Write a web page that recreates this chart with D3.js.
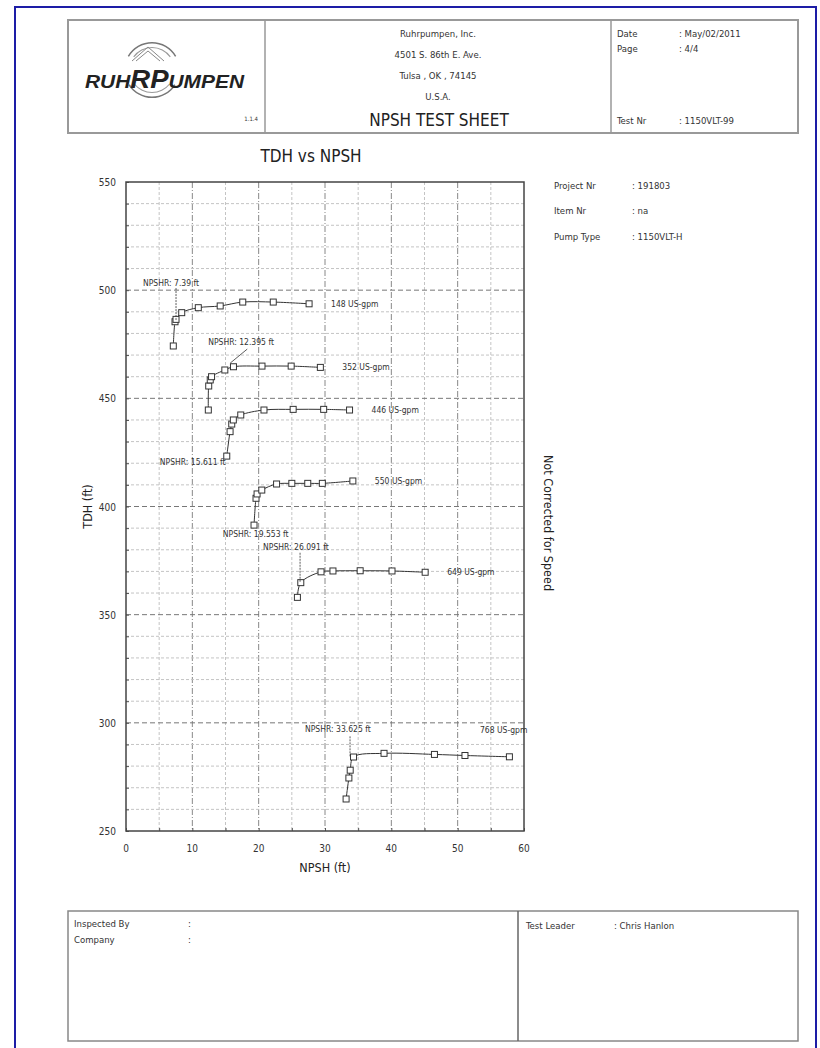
<!DOCTYPE html>
<html>
<head>
<meta charset="utf-8">
<script src="https://cdn.jsdelivr.net/npm/d3@7"></script>
<style>
  body { margin: 0; background: #fff; }
  svg text { font-family: "DejaVu Sans Condensed", "Liberation Sans", sans-serif; fill: #333; }
</style>
</head>
<body>
<div id="chart"></div>
<script>
// Flow rates (US-gpm) and the NPSHR read for each curve
const flows = [148, 352, 446, 550, 649, 768];
const npshr = [7.39, 12.395, 15.611, 19.553, 26.091, 33.625];

// Test points per flow: NPSH (ft) and TDH (ft)
const npsh148 = [7.13, 7.39, 7.54, 8.4, 10.9, 14.2, 17.6, 22.2, 27.6];
const tdh148  = [474.2, 485.4, 486.5, 489.6, 491.9, 492.7, 494.5, 494.5, 493.7];
const npsh352 = [12.41, 12.47, 12.7, 12.9, 14.9, 16.2, 20.5, 24.9, 29.3];
const tdh352  = [444.6, 455.7, 458.5, 460.0, 463.1, 464.6, 464.9, 464.9, 464.3];
const npsh446 = [15.19, 15.69, 15.94, 16.18, 17.3, 20.8, 25.2, 29.8, 33.7];
const tdh446  = [423.3, 434.6, 438.1, 440.0, 442.3, 444.6, 444.9, 444.9, 444.6];
const npsh550 = [19.3, 19.6, 19.76, 20.47, 22.7, 25.0, 27.4, 29.6, 34.2];
const tdh550  = [391.4, 403.8, 405.8, 407.6, 410.4, 410.7, 410.7, 410.7, 411.8];
const npsh649 = [25.84, 26.35, 29.4, 31.2, 35.3, 40.1, 45.1];
const tdh649  = [358.0, 364.8, 369.8, 370.2, 370.3, 370.2, 369.6];
const npsh768 = [33.18, 33.6, 33.8, 34.3, 38.9, 46.5, 51.1, 57.8];
const tdh768  = [264.8, 274.5, 278.1, 284.2, 285.9, 285.4, 284.9, 284.3];

// Axis ticks
const xTicks = [0, 10, 20, 30, 40, 50, 60];
const yTicks = [250, 300, 350, 400, 450, 500, 550];

const npshSeries = [npsh148, npsh352, npsh446, npsh550, npsh649, npsh768];
const tdhSeries = [tdh148, tdh352, tdh446, tdh550, tdh649, tdh768];

const svg = d3.select("#chart")
    .append("svg")
    .attr("width", 820)
    .attr("height", 1048);

// Page frame (blue edge of the scan)
svg.append("path")
    .attr("d", "M15,1048 V7 H816 V1048")
    .attr("fill", "none")
    .attr("stroke", "#1d1da6")
    .attr("stroke-width", 2);

// ---------- header block ----------
const head = svg.append("g");
head.append("rect")
    .attr("x", 68).attr("y", 20).attr("width", 730).attr("height", 113)
    .attr("fill", "none").attr("stroke", "#999").attr("stroke-width", 2);
head.append("line").attr("x1", 265).attr("x2", 265).attr("y1", 20).attr("y2", 133)
    .attr("stroke", "#999").attr("stroke-width", 1.5);
head.append("line").attr("x1", 611).attr("x2", 611).attr("y1", 20).attr("y2", 133)
    .attr("stroke", "#999").attr("stroke-width", 1.5);

// logo
const logo = head.append("g").attr("transform", "translate(152,70)");
const ring = d3.arc();
[[-1.05, 1.05], [Math.PI - 1.0, Math.PI + 1.0]].forEach(([a0, a1]) => {
    logo.append("path")
        .attr("d", ring({ innerRadius: 26.5, outerRadius: 28, startAngle: a0, endAngle: a1 }))
        .attr("fill", "#777");
    logo.append("path")
        .attr("d", ring({ innerRadius: 22, outerRadius: 23, startAngle: a0 + 0.1, endAngle: a1 - 0.1 }))
        .attr("fill", "#999");
});
logo.append("path")
    .attr("d", "M-20,-9 L-4,-23 L12,-9 M-16,-9 L-4,-19 L8,-9")
    .attr("fill", "none").attr("stroke", "#888").attr("stroke-width", 1);
const brand = head.append("text")
    .attr("x", 85).attr("y", 88)
    .attr("textLength", 159).attr("lengthAdjust", "spacingAndGlyphs")
    .style("font-family", "'Liberation Sans', Arial, sans-serif")
    .style("font-weight", "bold").style("font-style", "italic")
    .style("fill", "#222");
brand.append("tspan").attr("font-size", 19).text("RUH");
brand.append("tspan").attr("font-size", 25).text("RP");
brand.append("tspan").attr("font-size", 19).text("UMPEN");
head.append("text").attr("x", 258).attr("y", 121).attr("text-anchor", "end")
    .attr("font-size", 6).text("1.1.4");

// company block
const addr = ["Ruhrpumpen, Inc.", "4501 S. 86th E. Ave.", "Tulsa , OK , 74145", "U.S.A."];
addr.forEach((t, i) => {
    head.append("text").attr("x", 438).attr("y", 37 + i * 21)
        .attr("text-anchor", "middle").attr("font-size", 9.5).text(t);
});
head.append("text").attr("x", 439).attr("y", 126)
    .attr("text-anchor", "middle").attr("font-size", 17).style("fill", "#222")
    .text("NPSH TEST SHEET");

// date / page / test nr
[["Date", ": May/02/2011", 37], ["Page", ": 4/4", 52], ["Test Nr", ": 1150VLT-99", 124]].forEach(([k, v, y]) => {
    head.append("text").attr("x", 617).attr("y", y).attr("font-size", 9.5).text(k);
    head.append("text").attr("x", 679).attr("y", y).attr("font-size", 9.5).text(v);
});

// ---------- chart ----------
const x = d3.scaleLinear().domain([0, 60]).range([126, 524]);
const y = d3.scaleLinear().domain([250, 550]).range([831, 182]);

svg.append("text")
    .attr("x", 311).attr("y", 162)
    .attr("text-anchor", "middle").attr("font-size", 17).style("fill", "#222")
    .text("TDH vs NPSH");

// grid lines: every 5 ft of NPSH, every 10 ft of TDH
const grid = svg.append("g");
grid.selectAll(".vgrid")
    .data(d3.range(5, 60, 5))
    .enter().append("line")
    .attr("x1", d => x(d)).attr("x2", d => x(d))
    .attr("y1", y(550)).attr("y2", y(250))
    .attr("stroke", d => d % 10 === 0 ? "#888" : "#c4c4c4")
    .attr("stroke-dasharray", d => d % 10 === 0 ? "6,2,1,2" : "3,2");
grid.selectAll(".hgrid")
    .data(d3.range(260, 550, 10))
    .enter().append("line")
    .attr("x1", x(0)).attr("x2", x(60))
    .attr("y1", d => y(d)).attr("y2", d => y(d))
    .attr("stroke", d => d % 50 === 0 ? "#777" : "#c4c4c4")
    .attr("stroke-dasharray", d => d % 50 === 0 ? "5,3" : "3,2");

// axes
svg.append("g")
    .attr("transform", `translate(0,${y(250)})`)
    .call(d3.axisBottom(x).tickValues(d3.range(0, 61, 5)).tickSize(-3).tickFormat(""))
    .call(g => g.select(".domain").remove())
    .selectAll("line").attr("stroke", "#555");
svg.append("g")
    .attr("transform", `translate(${x(0)},0)`)
    .call(d3.axisLeft(y).tickValues(d3.range(250, 551, 10)).tickSize(-3).tickFormat(""))
    .call(g => g.select(".domain").remove())
    .selectAll("line").attr("stroke", "#555");

svg.append("g").selectAll("text")
    .data(xTicks).enter().append("text")
    .attr("x", d => x(d)).attr("y", y(250) + 21)
    .attr("text-anchor", "middle").attr("font-size", 10)
    .text(d => d);
svg.append("g").selectAll("text")
    .data(yTicks).enter().append("text")
    .attr("x", x(0) - 10).attr("y", d => y(d) + 4)
    .attr("text-anchor", "end").attr("font-size", 10)
    .text(d => d);

// plot frame
svg.append("rect")
    .attr("x", x(0)).attr("y", y(550))
    .attr("width", x(60) - x(0)).attr("height", y(250) - y(550))
    .attr("fill", "none").attr("stroke", "#444").attr("stroke-width", 1.5);

// axis titles
svg.append("text")
    .attr("x", 325).attr("y", 872)
    .attr("text-anchor", "middle").attr("font-size", 12.5).style("fill", "#222")
    .text("NPSH (ft)");
svg.append("text")
    .attr("transform", `translate(92,${(y(550) + y(250)) / 2}) rotate(-90)`)
    .attr("text-anchor", "middle").attr("font-size", 12.5).style("fill", "#222")
    .text("TDH (ft)");
svg.append("text")
    .attr("transform", "translate(544,523) rotate(90)")
    .attr("text-anchor", "middle").attr("font-size", 12.5).style("fill", "#222")
    .text("Not Corrected for Speed");

// curves and test points
const line = d3.line()
    .x(d => x(d[0])).y(d => y(d[1]))
    .curve(d3.curveCatmullRom.alpha(0.5));

const curves = svg.append("g");
flows.forEach((f, i) => {
    const pts = npshSeries[i].map((v, j) => [v, tdhSeries[i][j]]);
    curves.append("path")
        .attr("d", line(pts))
        .attr("fill", "none").attr("stroke", "#333").attr("stroke-width", 1);
    curves.selectAll(null)
        .data(pts).enter().append("rect")
        .attr("x", d => x(d[0]) - 3).attr("y", d => y(d[1]) - 3)
        .attr("width", 6).attr("height", 6)
        .attr("fill", "#fff").attr("stroke", "#333").attr("stroke-width", 1);
});

// flow labels next to the last point of each curve
flows.forEach((f, i) => {
    const last = npshSeries[i].length - 1;
    const lx = x(npshSeries[i][last]);
    const ly = y(tdhSeries[i][last]);
    const above = i === flows.length - 1;
    svg.append("text")
        .attr("x", above ? lx + 18 : lx + 22)
        .attr("y", above ? ly - 24 : ly + 3)
        .attr("text-anchor", above ? "end" : "start")
        .attr("font-size", 8.5)
        .text(`${f} US-gpm`);
});

// NPSHR callouts: text offset (px) from NPSHR at the curve's top head, plus optional leader
const callouts = [
    { dx: -32, dy: -16, anchor: "start", lead: [[1, -14], [1, 18]], dash: "2,1" },
    { dx: 0, dy: -21, anchor: "start", lead: [[39, -17], [22, -3]], dash: null },
    { dx: -4, dy: 56, anchor: "end", lead: null, dash: null },
    { dx: 0, dy: 56, anchor: "middle", lead: null, dash: null },
    { dx: -36, dy: -21, anchor: "start", lead: [[1, -18], [1, 12]], dash: "2,1" },
    { dx: -44, dy: -21, anchor: "start", lead: [[1, -17], [1, 4]], dash: "2,1" }
];
npshr.forEach((n, i) => {
    const c = callouts[i];
    const px = x(n);
    const py = y(d3.max(tdhSeries[i]));
    svg.append("text")
        .attr("x", px + c.dx).attr("y", py + c.dy)
        .attr("text-anchor", c.anchor).attr("font-size", 8.5)
        .text(`NPSHR: ${n} ft`);
    if (c.lead) {
        svg.append("line")
            .attr("x1", px + c.lead[0][0]).attr("y1", py + c.lead[0][1])
            .attr("x2", px + c.lead[1][0]).attr("y2", py + c.lead[1][1])
            .attr("stroke", "#333").attr("stroke-width", 0.8)
            .attr("stroke-dasharray", c.dash);
    }
});

// right-hand project info
[["Project Nr", ": 191803", 189], ["Item Nr", ": na", 214], ["Pump Type", ": 1150VLT-H", 240]].forEach(([k, v, yy]) => {
    svg.append("text").attr("x", 554).attr("y", yy).attr("font-size", 9.5).text(k);
    svg.append("text").attr("x", 632).attr("y", yy).attr("font-size", 9.5).text(v);
});

// ---------- sign-off block ----------
const foot = svg.append("g");
foot.append("rect")
    .attr("x", 68).attr("y", 911).attr("width", 730).attr("height", 130)
    .attr("fill", "none").attr("stroke", "#888").attr("stroke-width", 1.5);
foot.append("line").attr("x1", 518).attr("x2", 518).attr("y1", 911).attr("y2", 1041)
    .attr("stroke", "#666").attr("stroke-width", 1.5);
[["Inspected By", 927], ["Company", 943]].forEach(([k, yy]) => {
    foot.append("text").attr("x", 74).attr("y", yy).attr("font-size", 9.5).text(k);
    foot.append("text").attr("x", 188).attr("y", yy).attr("font-size", 9.5).text(":");
});
foot.append("text").attr("x", 526).attr("y", 929).attr("font-size", 9.5).text("Test Leader");
foot.append("text").attr("x", 614).attr("y", 929).attr("font-size", 9.5).text(": Chris Hanlon");
</script>
</body>
</html>
